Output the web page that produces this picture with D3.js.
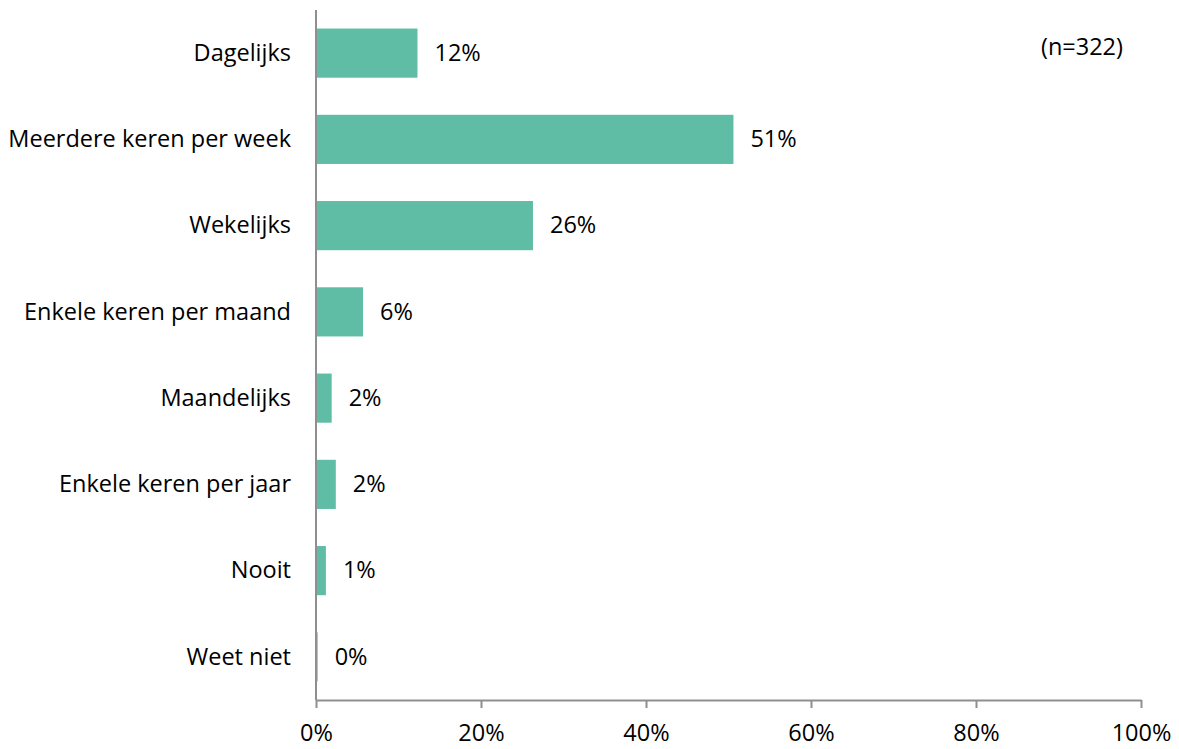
<!DOCTYPE html>
<html><head><meta charset="utf-8">
<script src="https://cdn.jsdelivr.net/npm/d3@7"></script>
<style>body{margin:0;background:#fff;} text{font-family:"Open Sans", sans-serif;fill:#000;}</style>
</head><body>
<svg id="c" width="1179" height="749"></svg>
<script>
const categories = ["Dagelijks","Meerdere keren per week","Wekelijks","Enkele keren per maand","Maandelijks","Enkele keren per jaar","Nooit","Weet niet"];
const values = [12.3, 50.6, 26.3, 5.7, 1.9, 2.4, 1.2, 0.2];
const xTicks = [0,20,40,60,80,100];
const note = "(n=322)";

const FONT = "'Open Sans', sans-serif";
const FS = 23.5;
const svg = d3.select("#c");
const margin = {left:316, right:38, top:10, bottom:49};
const W = 1179, H = 749;
const x = d3.scaleLinear().domain([0,100]).range([margin.left, W - margin.right]);
const y = d3.scaleBand().domain(categories).range([margin.top, H - margin.bottom]).paddingInner(0.43).paddingOuter(0.215);
const color = "#5fbda5", axisColor = "#8f8f8f";

svg.selectAll("rect.bar").data(values).join("rect").attr("class","bar")
  .attr("x", x(0)).attr("y",(d,i)=>y(categories[i])).attr("height", y.bandwidth())
  .attr("width", d => x(d) - x(0)).attr("fill", color);

svg.selectAll("text.val").data(values).join("text").attr("class","val")
  .attr("x", d => x(d) + 17).attr("y",(d,i)=>y(categories[i]) + y.bandwidth()/2)
  .attr("dy","0.33em").attr("font-size",FS).text(d => Math.round(d) + "%");

const yAxis = svg.append("g").attr("transform",`translate(${x(0)},0)`)
  .call(d3.axisLeft(y).tickSize(0).tickPadding(25));
yAxis.select(".domain").remove();
yAxis.append("line").attr("x1",0).attr("x2",0).attr("y1",margin.top).attr("y2",H-margin.bottom).attr("stroke",axisColor).attr("stroke-width",2);
yAxis.selectAll("text").attr("font-size",FS).attr("fill","#000").attr("font-family",FONT).attr("dy","0.33em");

const xAxis = svg.append("g").attr("transform",`translate(0,${H-margin.bottom})`)
  .call(d3.axisBottom(x).tickValues(xTicks).tickFormat(d=>d+"%").tickSize(8).tickSizeOuter(0).tickPadding(16));
xAxis.select(".domain").attr("stroke",axisColor).attr("stroke-width",2);
xAxis.selectAll(".tick line").attr("stroke",axisColor).attr("stroke-width",2);
xAxis.selectAll("text").attr("font-size",FS).attr("fill","#000").attr("font-family",FONT);

svg.append("text").attr("x",1123).attr("y",55).attr("text-anchor","end").attr("font-size",FS).text(note);
</script>
</body></html>
